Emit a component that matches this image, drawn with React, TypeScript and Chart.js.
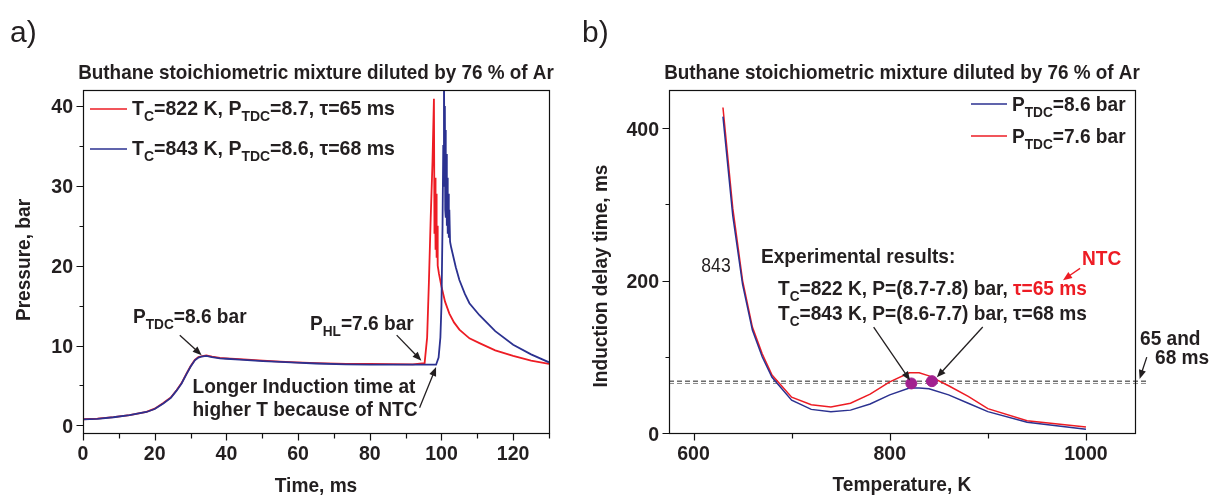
import React, { useEffect, useRef } from "react";
import { Chart, registerables } from "chart.js";
Chart.register(...registerables);

const W = 1212;
const H = 495;
const RED = "#ed1c24";
const BLUE = "#2b3190";
const PURPLE = "#a2208f";
const TEXT = "#231f20";
const FONT = '"Liberation Sans", Arial, Helvetica, sans-serif';

// ---------- Panel a: pressure traces ----------
const timeRed = [0, 4, 8.5, 13, 17.7, 20, 22.4, 24.5, 26.1, 27.5, 28.9, 30, 31.2, 32.2, 33, 34.4, 36, 38.2, 40, 43.7, 50.2, 55, 59.5, 65, 73.4, 80, 92, 95.3, 96.0, 96.5, 97.0, 97.5, 97.9, 98.05, 98.2, 98.35, 98.5, 98.65, 98.8, 98.95, 99.3, 100, 101, 102.2, 103.5, 105, 107.8, 110.6, 115, 120, 125, 130];
const pressureRed = [0.77, 0.85, 1.05, 1.3, 1.7, 2.1, 2.8, 3.5, 4.4, 5.3, 6.5, 7.4, 8.2, 8.55, 8.65, 8.75, 8.6, 8.45, 8.4, 8.3, 8.1, 8.0, 7.9, 7.8, 7.7, 7.7, 7.65, 7.8, 11, 18, 26, 33, 40.9, 24, 31, 22, 29, 21, 25, 20, 19, 17.4, 15.5, 14, 12.9, 12, 10.9, 10.3, 9.4, 8.7, 8.1, 7.7];
const timeBlue = [0, 4, 8.5, 13, 17.7, 20, 22.4, 24.5, 26.1, 27.5, 28.9, 30, 31.2, 32.2, 33, 34.4, 36, 38.2, 40, 43.7, 50.2, 55, 59.5, 65, 73.4, 80, 92, 98.5, 99.2, 99.7, 100.0, 100.3, 100.5, 100.7, 100.85, 100.95, 101.05, 101.15, 101.25, 101.35, 101.5, 101.6, 101.75, 101.9, 102.05, 102.2, 102.4, 102.7, 104, 105, 106.5, 107.8, 110.6, 115, 120, 125, 130];
const pressureBlue = [0.75, 0.83, 1.02, 1.28, 1.68, 2.05, 2.75, 3.45, 4.35, 5.25, 6.45, 7.35, 8.15, 8.5, 8.6, 8.7, 8.55, 8.4, 8.35, 8.25, 8.05, 7.95, 7.85, 7.75, 7.65, 7.62, 7.6, 7.6, 8.5, 11, 15, 25, 35, 45, 30, 40, 27, 37, 26, 34, 25, 31, 24, 29, 23.5, 27, 23, 22.3, 19.8, 18.2, 16.5, 15.3, 13.8, 11.8, 10.1, 8.9, 7.9];
const xMajorA = [0, 20, 40, 60, 80, 100, 120];
const xMinorA = [10, 30, 50, 70, 90, 110, 130];
const yMajorA = [0, 10, 20, 30, 40];
const yMinorA = [5, 15, 25, 35];

// ---------- Panel b: induction delay time ----------
const tempBlue = [630, 640, 650, 660, 670, 680, 700, 720, 740, 760, 780, 800, 820, 830, 840, 860, 880, 900, 940, 1000];
const tauBlue = [415, 285, 195, 135, 100, 73, 43, 31, 28, 30, 38, 50, 59, 59, 58, 50, 39, 28, 14, 5];
const tempRed = [630, 640, 650, 660, 670, 680, 700, 720, 740, 760, 780, 800, 820, 830, 840, 860, 880, 900, 940, 1000];
const tauRed = [427, 295, 200, 139, 104, 76, 47, 37, 34, 39, 51, 67, 79, 79, 75, 62, 48, 32, 16, 8];
const expTemp = [822, 843];
const expTau = [65, 68];
const refLevels = [65, 68];
const refRange = [575, 1064];
const xMajorB = [600, 800, 1000];
const xMinorB = [700, 900];
const yMajorB = [0, 200, 400];
const yMinorB = [100, 300];

type Seg = { t: string; sub?: boolean; color?: string };
type TOpts = { align?: "left" | "center" | "right"; weight?: string; color?: string; sx?: number; rotate?: boolean };

function fnt(size: number, weight: string) {
  return `${weight} ${size}px ${FONT}`;
}

function drawRich(ctx: CanvasRenderingContext2D, segs: Seg[], x: number, y: number, size: number, o: TOpts = {}) {
  const weight = o.weight ?? "bold";
  const sx = o.sx ?? 0.91;
  const subSize = Math.round(size * 0.7);
  ctx.save();
  let total = 0;
  const widths = segs.map((s) => {
    ctx.font = fnt(s.sub ? subSize : size, weight);
    const w = ctx.measureText(s.t).width;
    total += w;
    return w;
  });
  ctx.translate(x, y);
  if (o.rotate) ctx.rotate(-Math.PI / 2);
  let start = 0;
  const align = o.align ?? "left";
  if (align === "center") start = (-total * sx) / 2;
  else if (align === "right") start = -total * sx;
  ctx.translate(start, 0);
  ctx.scale(sx, 1);
  ctx.textAlign = "left";
  ctx.textBaseline = "alphabetic";
  let cx = 0;
  segs.forEach((s, i) => {
    ctx.font = fnt(s.sub ? subSize : size, weight);
    ctx.fillStyle = s.color ?? o.color ?? TEXT;
    ctx.fillText(s.t, cx, s.sub ? size * 0.3 : 0);
    cx += widths[i];
  });
  ctx.restore();
}

function txt(ctx: CanvasRenderingContext2D, t: string, x: number, y: number, size: number, o: TOpts = {}) {
  drawRich(ctx, [{ t }], x, y, size, o);
}

function arrow(ctx: CanvasRenderingContext2D, x1: number, y1: number, x2: number, y2: number, color = TEXT) {
  const ang = Math.atan2(y2 - y1, x2 - x1);
  const hl = 9;
  const hw = 3.6;
  ctx.save();
  ctx.strokeStyle = color;
  ctx.fillStyle = color;
  ctx.lineWidth = 1.3;
  ctx.beginPath();
  ctx.moveTo(x1, y1);
  ctx.lineTo(x2 - Math.cos(ang) * hl * 0.8, y2 - Math.sin(ang) * hl * 0.8);
  ctx.stroke();
  ctx.beginPath();
  ctx.moveTo(x2, y2);
  ctx.lineTo(x2 - Math.cos(ang) * hl - Math.sin(ang) * hw, y2 - Math.sin(ang) * hl + Math.cos(ang) * hw);
  ctx.lineTo(x2 - Math.cos(ang) * hl + Math.sin(ang) * hw, y2 - Math.sin(ang) * hl - Math.cos(ang) * hw);
  ctx.closePath();
  ctx.fill();
  ctx.restore();
}

function drawFrame(chart: any, xMajor: number[], xMinor: number[], yMajor: number[], yMinor: number[], yLabelRight: number) {
  const ctx: CanvasRenderingContext2D = chart.ctx;
  const a = chart.chartArea;
  const xs = chart.scales.x;
  const ys = chart.scales.y;
  ctx.save();
  ctx.strokeStyle = "#111";
  ctx.lineWidth = 1.2;
  ctx.strokeRect(Math.round(a.left) + 0.5, Math.round(a.top) + 0.5, Math.round(a.right - a.left), Math.round(a.bottom - a.top));
  ctx.beginPath();
  const b = Math.round(a.bottom) + 0.5;
  const l = Math.round(a.left) + 0.5;
  xMajor.forEach((v) => {
    const px = Math.round(xs.getPixelForValue(v)) + 0.5;
    ctx.moveTo(px, b);
    ctx.lineTo(px, b + 7);
  });
  xMinor.forEach((v) => {
    const px = Math.round(xs.getPixelForValue(v)) + 0.5;
    ctx.moveTo(px, b);
    ctx.lineTo(px, b + 5);
  });
  yMajor.forEach((v) => {
    const py = Math.round(ys.getPixelForValue(v)) + 0.5;
    ctx.moveTo(l, py);
    ctx.lineTo(l - 7, py);
  });
  yMinor.forEach((v) => {
    const py = Math.round(ys.getPixelForValue(v)) + 0.5;
    ctx.moveTo(l, py);
    ctx.lineTo(l - 4, py);
  });
  ctx.stroke();
  ctx.restore();
  xMajor.forEach((v) => txt(ctx, String(v), xs.getPixelForValue(v), 460, 21, { align: "center", sx: 0.93 }));
  yMajor.forEach((v) => txt(ctx, String(v), yLabelRight, ys.getPixelForValue(v) + 7.5, 21, { align: "right", sx: 0.93 }));
}

const panelAPlugin = {
  id: "panelA",
  afterDraw(chart: any) {
    const ctx: CanvasRenderingContext2D = chart.ctx;
    const xs = chart.scales.x;
    const ys = chart.scales.y;
    const X = (v: number) => xs.getPixelForValue(v);
    const Y = (v: number) => ys.getPixelForValue(v);
    drawFrame(chart, xMajorA, xMinorA, yMajorA, yMinorA, 73);
    txt(ctx, "a)", 10, 42, 30, { weight: "normal", sx: 1 });
    txt(ctx, "Buthane stoichiometric mixture diluted by 76 % of Ar", 316, 79, 21, { align: "center", sx: 0.9 });
    txt(ctx, "Time, ms", 316, 492, 21, { align: "center" });
    txt(ctx, "Pressure, bar", 30, 260, 21, { align: "center", rotate: true });
    // legend
    ctx.save();
    ctx.lineWidth = 1.6;
    ctx.strokeStyle = RED;
    ctx.beginPath();
    ctx.moveTo(90, 109);
    ctx.lineTo(127, 109);
    ctx.stroke();
    ctx.strokeStyle = BLUE;
    ctx.beginPath();
    ctx.moveTo(90, 149);
    ctx.lineTo(127, 149);
    ctx.stroke();
    ctx.restore();
    drawRich(ctx, [{ t: "T" }, { t: "C", sub: true }, { t: "=822 K, P" }, { t: "TDC", sub: true }, { t: "=8.7, τ=65 ms" }], 132, 115, 21, { sx: 0.93 });
    drawRich(ctx, [{ t: "T" }, { t: "C", sub: true }, { t: "=843 K, P" }, { t: "TDC", sub: true }, { t: "=8.6, τ=68 ms" }], 132, 155, 21, { sx: 0.93 });
    // annotations
    drawRich(ctx, [{ t: "P" }, { t: "TDC", sub: true }, { t: "=8.6 bar" }], 133, 323, 21);
    arrow(ctx, X(27.0), Y(11.3), X(33.1), Y(8.8));
    drawRich(ctx, [{ t: "P" }, { t: "HL", sub: true }, { t: "=7.6 bar" }], 310, 330, 21);
    arrow(ctx, X(87.5), Y(11.3), X(94.4), Y(8.1));
    txt(ctx, "Longer Induction time at", 304, 393, 21, { align: "center" });
    txt(ctx, "higher T because of NTC", 305, 416, 21, { align: "center" });
    arrow(ctx, X(93.9), Y(2.2), X(98.5), Y(7.3));
  },
};

const panelBPlugin = {
  id: "panelB",
  afterDraw(chart: any) {
    const ctx: CanvasRenderingContext2D = chart.ctx;
    const xs = chart.scales.x;
    const ys = chart.scales.y;
    const X = (v: number) => xs.getPixelForValue(v);
    const Y = (v: number) => ys.getPixelForValue(v);
    drawFrame(chart, xMajorB, xMinorB, yMajorB, yMinorB, 659);
    txt(ctx, "b)", 582, 42, 30, { weight: "normal", sx: 1 });
    txt(ctx, "Buthane stoichiometric mixture diluted by 76 % of Ar", 902, 79, 21, { align: "center", sx: 0.9 });
    txt(ctx, "Temperature, K", 902, 491, 21, { align: "center" });
    txt(ctx, "Induction delay time, ms", 607, 276, 21, { align: "center", rotate: true });
    // legend
    ctx.save();
    ctx.lineWidth = 1.6;
    ctx.strokeStyle = BLUE;
    ctx.beginPath();
    ctx.moveTo(971, 104);
    ctx.lineTo(1007, 104);
    ctx.stroke();
    ctx.strokeStyle = RED;
    ctx.beginPath();
    ctx.moveTo(971, 136);
    ctx.lineTo(1007, 136);
    ctx.stroke();
    ctx.restore();
    drawRich(ctx, [{ t: "P" }, { t: "TDC", sub: true }, { t: "=8.6 bar" }], 1012, 111, 21);
    drawRich(ctx, [{ t: "P" }, { t: "TDC", sub: true }, { t: "=7.6 bar" }], 1012, 143, 21);
    // annotations
    txt(ctx, "843", 716, 272, 20, { align: "center", weight: "normal", sx: 0.88 });
    txt(ctx, "Experimental results:", 761, 263, 21);
    drawRich(ctx, [{ t: "T" }, { t: "C", sub: true }, { t: "=822 K, P=(8.7-7.8) bar, " }, { t: "τ=65 ms", color: RED }], 778, 295, 21);
    drawRich(ctx, [{ t: "T" }, { t: "C", sub: true }, { t: "=843 K, P=(8.6-7.7) bar, τ=68 ms" }], 778, 320, 21);
    txt(ctx, "NTC", 1082, 265, 21, { color: RED });
    arrow(ctx, X(994), Y(216), X(976.6), Y(200.5), RED);
    arrow(ctx, X(783.6), Y(139), X(820.7), Y(69));
    arrow(ctx, X(894.8), Y(139), X(848), Y(73));
    txt(ctx, "65 and", 1140, 345, 21);
    txt(ctx, "68 ms", 1155, 364, 21);
    arrow(ctx, X(1062), Y(99.6), X(1054.7), Y(71));
  },
};

function pts(xs: number[], ys: number[]) {
  return xs.map((x, i) => ({ x, y: ys[i] }));
}

const baseOptions = (pad: any, xr: number[], yr: number[]) => ({
  responsive: false,
  animation: false as const,
  events: [] as any[],
  layout: { padding: pad },
  scales: {
    x: { type: "linear" as const, min: xr[0], max: xr[1], display: false },
    y: { type: "linear" as const, min: yr[0], max: yr[1], display: false },
  },
  plugins: { legend: { display: false }, tooltip: { enabled: false }, title: { display: false } },
  elements: { point: { radius: 0 }, line: { tension: 0 } },
});

export default function App() {
  const refA = useRef<HTMLCanvasElement>(null);
  const refB = useRef<HTMLCanvasElement>(null);

  useEffect(() => {
    const chartA = new Chart(refA.current!, {
      type: "line",
      data: {
        datasets: [
          { label: "T_C=843 K", data: pts(timeBlue, pressureBlue), borderColor: BLUE, borderWidth: 1.8, pointRadius: 0 },
          { label: "T_C=822 K", data: pts(timeRed, pressureRed), borderColor: RED, borderWidth: 1.8, pointRadius: 0 },
        ],
      },
      options: baseOptions({ left: 83, right: W - 549, top: 90, bottom: H - 433 }, [0, 130], [-0.95, 42]) as any,
      plugins: [panelAPlugin],
    });
    const chartB = new Chart(refB.current!, {
      type: "line",
      data: {
        datasets: [
          { label: "exp", type: "scatter" as any, data: pts(expTemp, expTau), backgroundColor: PURPLE, borderColor: PURPLE, pointRadius: 5.5, showLine: false },
          { label: "P_TDC=8.6 bar", data: pts(tempBlue, tauBlue), borderColor: BLUE, borderWidth: 1.5, pointRadius: 0 },
          { label: "P_TDC=7.6 bar", data: pts(tempRed, tauRed), borderColor: RED, borderWidth: 1.5, pointRadius: 0 },
          { label: "68 ms", data: pts(refRange, [refLevels[1], refLevels[1]]), borderColor: "#222", borderWidth: 1, borderDash: [5, 3], pointRadius: 0, clip: false as any },
          { label: "65 ms", data: pts(refRange, [refLevels[0], refLevels[0]]), borderColor: "#888", borderWidth: 1, borderDash: [5, 3], pointRadius: 0, clip: false as any },
        ],
      },
      options: baseOptions({ left: 669, right: W - 1135, top: 90, bottom: H - 433 }, [575, 1050], [0, 450]) as any,
      plugins: [panelBPlugin],
    });
    return () => {
      chartA.destroy();
      chartB.destroy();
    };
  }, []);

  const cs: React.CSSProperties = { position: "absolute", left: 0, top: 0, width: W, height: H };
  return (
    <div style={{ position: "absolute", left: 0, top: 0, width: W, height: H, background: "#fff" }}>
      <canvas ref={refA} width={W} height={H} style={cs} />
      <canvas ref={refB} width={W} height={H} style={cs} />
    </div>
  );
}
